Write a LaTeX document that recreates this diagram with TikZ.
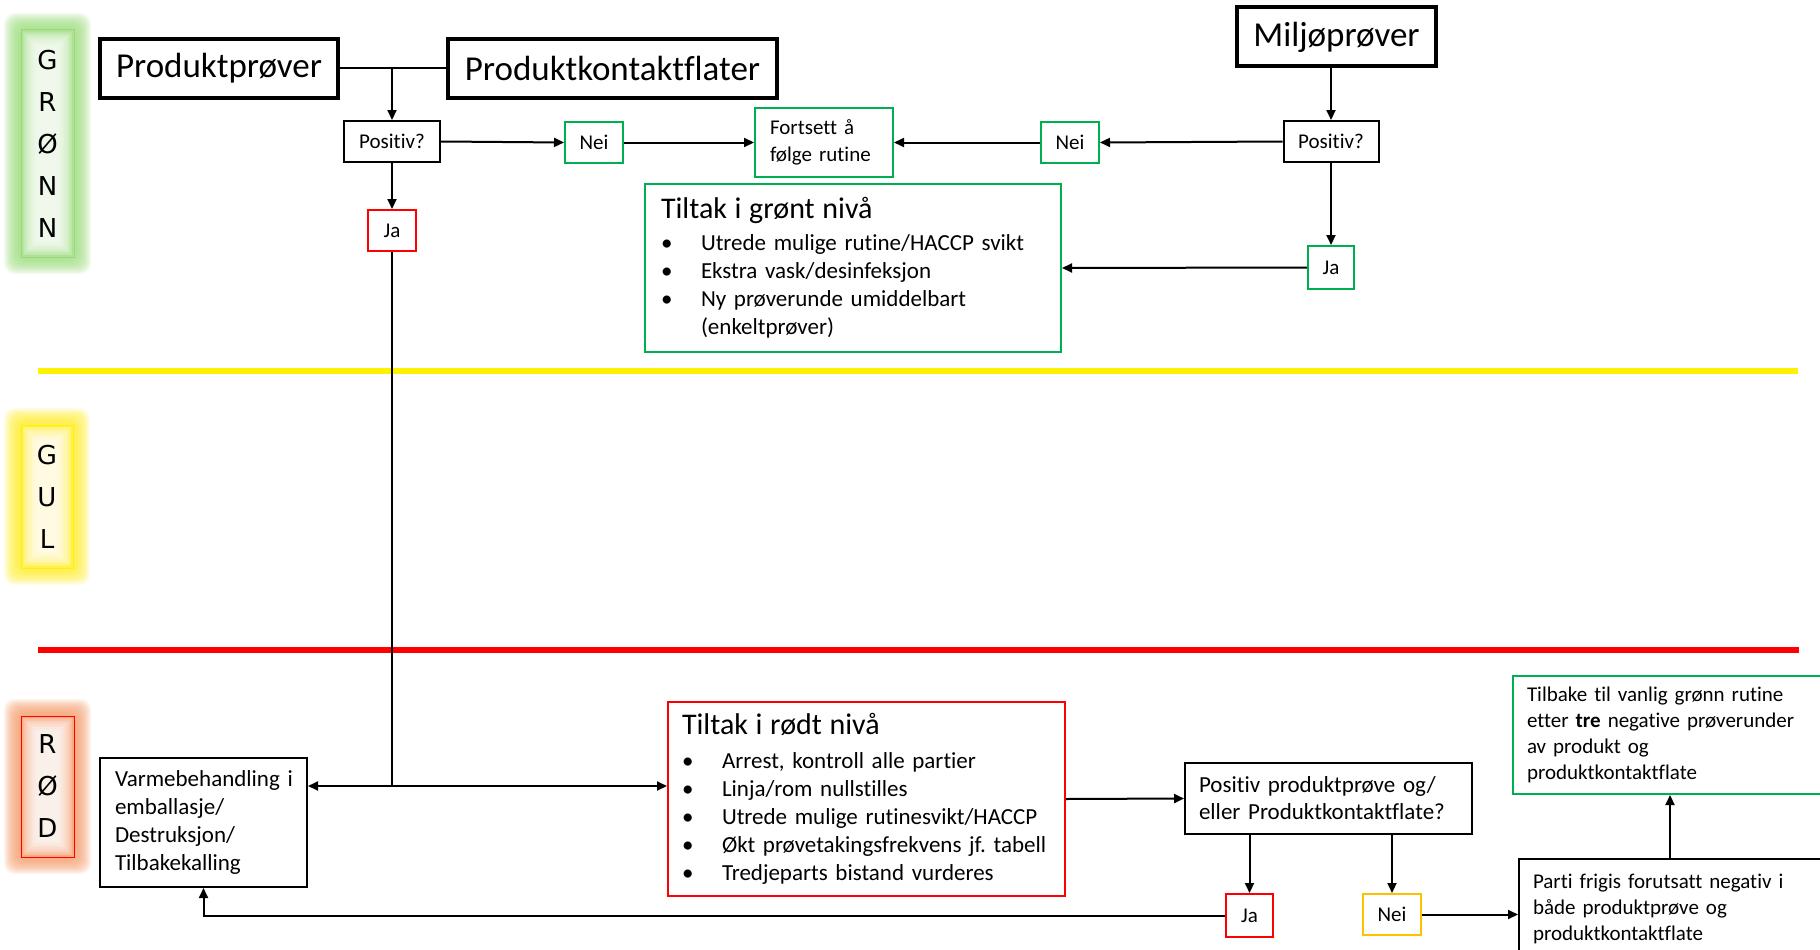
\documentclass[tikz,border=0pt]{standalone}
\usepackage{fontspec}
\setmainfont{Carlito}[Ligatures=NoCommon]
\newfontfamily\lvlfont{DejaVu Sans}
\usetikzlibrary{arrows.meta,calc}
\definecolor{grn}{HTML}{00B050}
\definecolor{org}{HTML}{FFC000}
\definecolor{glowG}{HTML}{A0E080}
\definecolor{glowY}{HTML}{FFF030}
\definecolor{glowR}{HTML}{F7A070}
\definecolor{brdG}{HTML}{9CD67F}
\frenchspacing
\newcommand\bl[1]{\makebox[40pt][l]{•}\mbox{#1}}
\newcommand\glowrect[5]{%
  \foreach \k in {1,...,14}{
    \fill[#5, opacity=0.12, rounded corners=10pt] ({#1-\k*1.2},{#2-\k*1.2}) rectangle ({#3+\k*1.2},{#4+\k*1.2});
  }
  \foreach \k in {1,...,10}{
    \fill[white, opacity=0.17] ({#1+\k*1.6},{#2+\k*1.6}) rectangle ({#3-\k*1.6},{#4-\k*1.6});
  }
}
\begin{document}
\begin{tikzpicture}[x=1pt,y=-1pt,
  bigbox/.style={draw, line width=4pt, inner sep=0pt, font=\fontsize{35}{40}\selectfont},
  smallbox/.style={draw, line width=2pt, inner sep=0pt, font=\fontsize{21}{27}\selectfont},
  gbox/.style={smallbox, draw=grn},
  rbox/.style={smallbox, draw=red},
  ybox/.style={smallbox, draw=org},
  arr/.style={line width=2pt, -{Triangle[length=10pt,width=9pt]}},
  ln/.style={line width=2pt},
  lvl/.style={line width=1pt, inner sep=0pt, align=center, font=\lvlfont\fontsize{26}{42}\selectfont}]
\useasboundingbox (0,0) rectangle (1820,950);
\clip (0,0) rectangle (1820,950);
\fill[white] (0,0) rectangle (1820,950);

% level glows
\glowrect{21}{30}{74}{257}{glowG}
\glowrect{21}{425}{73}{568}{glowY}
\glowrect{21}{716}{74}{857}{glowR}

% level separators
\draw[yellow, line width=6pt] (38,371) -- (1798,371);
\draw[red, line width=6pt] (38,650) -- (1799,650);

% level labels
\node[lvl, draw=brdG, minimum width=53pt, minimum height=227pt] (lg) at (47.5,143.5) {G\\R\\Ø\\N\\N};
\node[lvl, draw=yellow, minimum width=52pt, minimum height=143pt] (ly) at (47,496.5) {G\\U\\L};
\node[lvl, draw=red, minimum width=53pt, minimum height=141pt] (lr) at (47.5,786.5) {R\\Ø\\D};

% green level
\node[bigbox, minimum width=238pt, minimum height=59pt] (pp) at (219,68.5) {Produktprøver};
\node[bigbox, minimum width=329pt, minimum height=59pt] (pk) at (612.5,68.5) {Produktkontaktflater};
\node[bigbox, minimum width=199pt, minimum height=59pt] (mp) at (1336.5,37) {Miljøprøver};
\node[smallbox, minimum width=96pt, minimum height=41pt] (pos1) at (392,141.5) {Positiv?};
\node[gbox, minimum width=58pt, minimum height=41pt] (nei1) at (594,142.5) {Nei};
\node[gbox, minimum width=138pt, minimum height=69pt, inner xsep=15pt, text width=108pt, align=left] (fort) at (824,142.5) {Fortsett å\\følge rutine};
\node[gbox, minimum width=58pt, minimum height=41pt] (nei2) at (1070,142.5) {Nei};
\node[smallbox, minimum width=95pt, minimum height=41pt] (pos2) at (1331,141.5) {Positiv?};
\node[rbox, minimum width=48pt, minimum height=41pt] (ja1) at (392,230.5) {Ja};
\node[gbox, minimum width=46pt, minimum height=43pt] (ja2) at (1331,267.5) {Ja};
\node[gbox, minimum width=416pt, minimum height=168pt, inner xsep=16pt, text width=384pt, align=left, font=\fontsize{23}{28}\selectfont] (tg) at (853,268)
  {{\fontsize{30}{34}\selectfont Tiltak i grønt nivå}\\[4pt]
   \bl{Utrede mulige rutine/HACCP svikt}\\
   \bl{Ekstra vask/desinfeksjon}\\
   \bl{Ny prøverunde umiddelbart}\\
   \hspace*{40pt}(enkeltprøver)};

% red level
\node[smallbox, minimum width=207pt, minimum height=129pt, inner xsep=15pt, text width=177pt, align=left, font=\fontsize{23}{28}\selectfont] (vb) at (203.5,822.5)
  {\mbox{Varmebehandling i}\\emballasje/\\Destruksjon/\\Tilbakekalling};
\node[rbox, minimum width=397pt, minimum height=194pt, inner xsep=14pt, text width=369pt, align=left, font=\fontsize{23}{28}\selectfont] (tr) at (866.5,799)
  {{\fontsize{30}{34}\selectfont Tiltak i rødt nivå}\\[6pt]
   \bl{Arrest, kontroll alle partier}\\
   \bl{Linja/rom nullstilles}\\
   \bl{Utrede mulige rutinesvikt/HACCP}\\
   \bl{Økt prøvetakingsfrekvens jf. tabell}\\
   \bl{Tredjeparts bistand vurderes}};
\node[smallbox, minimum width=287pt, minimum height=71pt, inner xsep=14pt, text width=259pt, align=left, font=\fontsize{23}{27}\selectfont] (ppq) at (1328.5,798.5)
  {\mbox{Positiv produktprøve og/}\\\mbox{eller Produktkontaktflate?}};
\node[rbox, minimum width=47pt, minimum height=43pt] (ja3) at (1249.5,915.5) {Ja};
\node[ybox, minimum width=58pt, minimum height=41pt] (nei3) at (1392,914.5) {Nei};
\node[smallbox, anchor=north west, minimum width=330pt, minimum height=100pt, inner xsep=14pt, text width=302pt, align=left, font=\fontsize{21}{26}\selectfont] (parti) at (1518,858)
  {Parti frigis forutsatt negativ i\\både produktprøve og\\produktkontaktflate};
\node[gbox, anchor=north west, minimum width=330pt, minimum height=118pt, inner xsep=14pt, text width=302pt, align=left, font=\fontsize{21}{26}\selectfont] (tb) at (1512,675)
  {Tilbake til vanlig grønn rutine\\etter \textbf{tre} negative prøverunder\\av produkt og\\produktkontaktflate};

% connectors
\coordinate (j1) at (392,68.5);
\coordinate (j2) at (392,786);
\coordinate (ax) at (1670,0);
\draw[ln] (pp.east) -- (pk.west);
\draw[arr] (j1) -- (pos1.north);
\draw[arr] (pos1.east) -- (nei1.west);
\draw[arr] (nei1.east) -- (fort.west);
\draw[arr] (pos2.north |- mp.south) -- (pos2.north);
\draw[arr] (pos2.west) -- (nei2.east);
\draw[arr] (nei2.west) -- (fort.east);
\draw[arr] (pos2.south) -- (ja2.north);
\draw[arr] (ja2.west) -- (tg.east);
\draw[arr] (pos1.south) -- (ja1.north);
\draw[ln] (ja1.south) -- (j2);
\draw[arr] (j2) -- (vb.east |- j2);
\draw[arr] (j2) -- (tr.west |- j2);
\draw[arr] (tr.east) -- (ppq.west);
\draw[arr] (ja3.north |- ppq.south) -- (ja3.north);
\draw[arr] (nei3.north |- ppq.south) -- (nei3.north);
\draw[arr] (nei3.east) -- (parti.west |- nei3.east);
\draw[arr] (ja3.west) -| (vb.south);
\draw[arr] (parti.north -| ax) -- (tb.south -| ax);
\end{tikzpicture}
\end{document}
